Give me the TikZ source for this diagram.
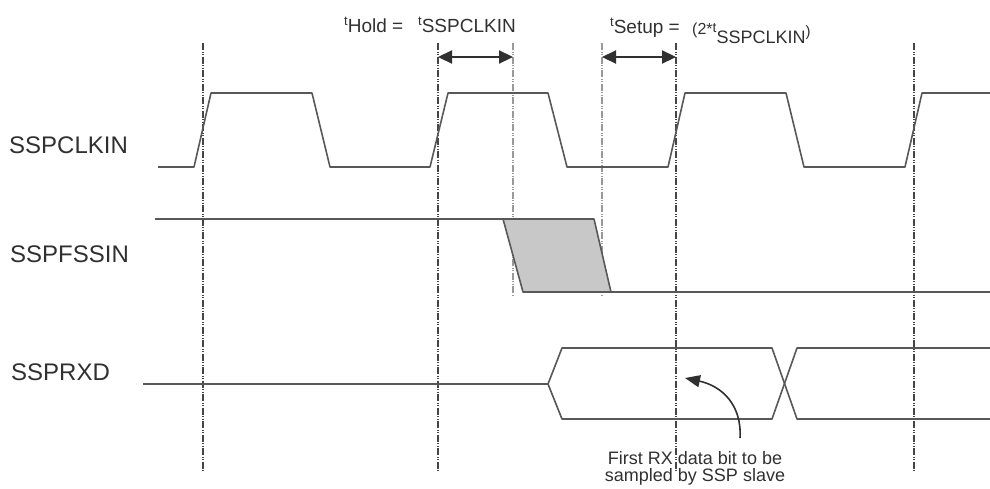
\documentclass[tikz,border=0pt]{standalone}
\usepackage{fontspec}
\setmainfont{Liberation Sans}
\usetikzlibrary{arrows.meta}

\definecolor{wave}{HTML}{585858}
\definecolor{ink}{HTML}{303030}
\definecolor{shade}{HTML}{C8C8C8}

\newcommand{\fsz}[1]{\fontsize{#1}{#1}\selectfont}

\begin{document}
\begin{tikzpicture}[x=1pt, y=-1pt,
  every node/.style={inner sep=0pt, text=ink},
  sig/.style={draw=wave, line width=1.6pt, line join=round},
  edge/.style={draw=ink!90, line width=1.3pt, dash pattern=on 7pt off 1.5pt on 1pt off 1.5pt on 1pt off 1.5pt},
  guide/.style={draw=black!40, line width=1.1pt, dash pattern=on 7pt off 1.5pt on 1pt off 1.5pt on 1pt off 1.5pt},
  dim/.style={draw=ink, line width=2.2pt, {Triangle[length=14pt,width=13pt]}-{Triangle[length=14pt,width=13pt]}},
  lbl/.style={anchor=base west, font=\fsz{24}}]

\useasboundingbox (0,0) rectangle (990,488);

% signal names
\node[lbl] (clk) at (9,153) {SSPCLKIN};
\node[lbl] (fss) at (10,262) {SSPFSSIN};
\node[lbl] (rxd) at (11,380) {SSPRXD};

% timing labels
\node[anchor=base west, font=\fsz{19}] (thold) at (344,32) {\raisebox{7pt}{\fsz{13}t}Hold =};
\node[anchor=base west, font=\fsz{19}] (tclk) at (418,32) {\raisebox{7pt}{\fsz{13}t}SSPCLKIN};
\node[anchor=base west, font=\fsz{19}] (tsetup) at (610,33) {\raisebox{7pt}{\fsz{13}t}Setup =};
\node[anchor=base west, font=\fsz{16}] (tclk2) at (692,34) {(2*\raisebox{2pt}{\fsz{14}t}\raisebox{-9pt}{\fsz{18}SSPCLKIN}\raisebox{-2pt}{\fsz{15})}};

% clock edges
\draw[edge] (203,43) -- (203,472);
\draw[edge] (438,43) -- (438,472);
\draw[edge] (676,43) -- (676,472);
\draw[edge] (914,43) -- (914,472);
\draw[guide] (513,43) -- (513,295);
\draw[guide] (602,43) -- (602,295);

% hold and setup
\coordinate (holdA) at (438,57);
\coordinate (holdB) at (513,57);
\coordinate (setupA) at (602,57);
\coordinate (setupB) at (676,57);
\draw[dim] (holdA) -- (holdB);
\draw[dim] (setupA) -- (setupB);

% SSPCLKIN
\draw[sig] (158,167) -- (194,167) -- (211,93) -- (312,93) -- (330,167) -- (430,167)
  -- (448,93) -- (548,93) -- (567,167) -- (668,167) -- (685,93) -- (786,93)
  -- (804,167) -- (905,167) -- (922,93) -- (990,93);

% SSPFSSIN
\draw[sig] (155,219) -- (503,219);
\draw[sig, fill=shade] (503,219) -- (594,219) -- (611,292) -- (523,292) -- cycle;
\draw[sig] (523,292) -- (990,292);

% SSPRXD
\draw[sig] (143,384) -- (548,384) -- (562,348) -- (772,348) -- (797,419) -- (990,419);
\draw[sig] (548,384) -- (562,419) -- (772,419) -- (797,348) -- (990,348);

% note
\node[font=\fsz{18}, align=center] (note) at (695,468) {First RX data bit to be\\[-1pt]sampled by SSP slave};
\coordinate (tail) at (740,438);
\coordinate (sample) at (685,378);
\draw[draw=ink, line width=1.6pt, -{Triangle[length=15pt,width=12pt]}] (tail) .. controls (742,405) and (722,386) .. (sample);

\end{tikzpicture}
\end{document}
